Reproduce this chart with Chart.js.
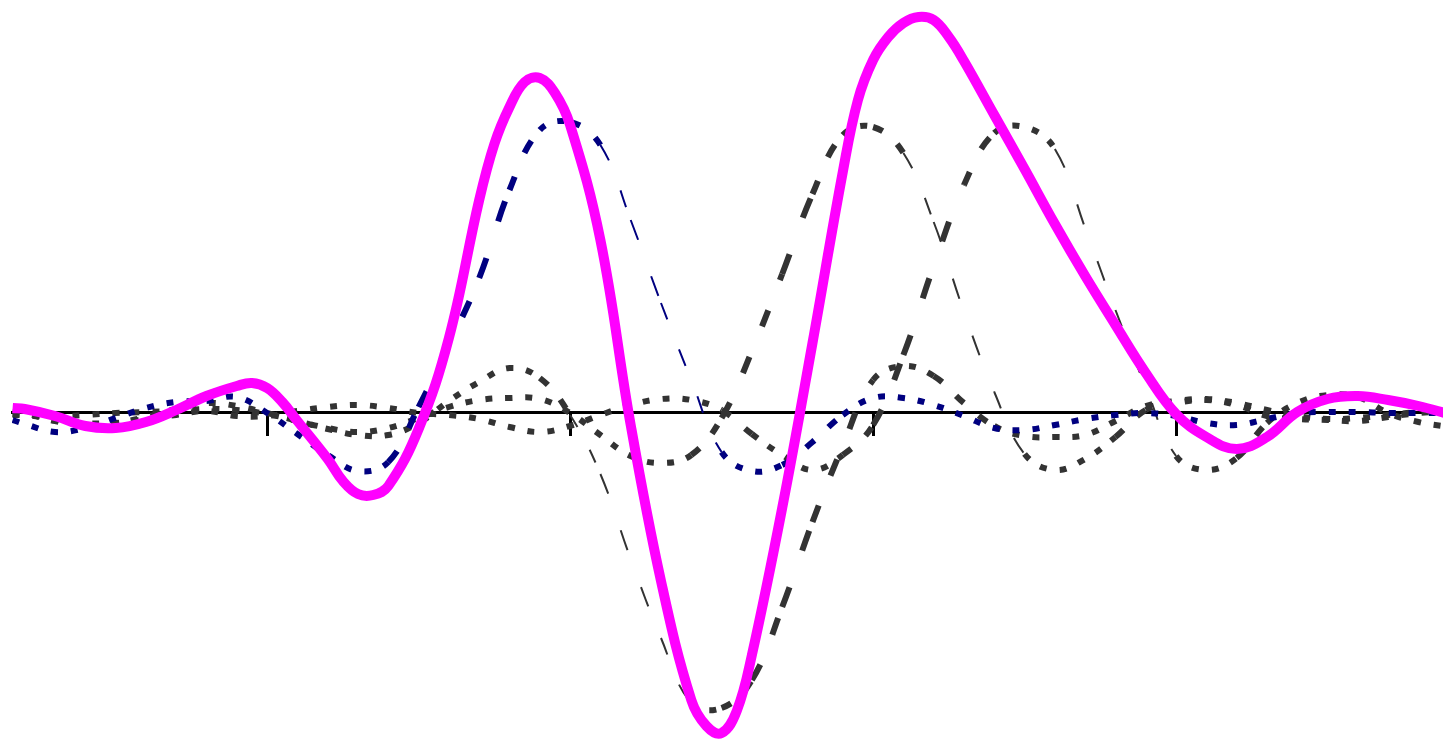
<!DOCTYPE html>
<html>
<head>
<meta charset="utf-8">
<script src="https://cdn.jsdelivr.net/npm/chart.js@4.4.1/dist/chart.umd.min.js"></script>
<style>
  html, body { margin: 0; padding: 0; background: #fff; }
  #wrap { width: 1443px; height: 744px; position: relative; }
</style>
</head>
<body>
<div id="wrap"><canvas id="wavelets"></canvas></div>
<script>
// sample positions of the atoms (time axis, ticks at whole units)
const tValues = [-1.84, -1.8, -1.7, -1.6, -1.5, -1.4, -1.3, -1.2, -1.1, -1.0, -0.9, -0.8, -0.7, -0.6, -0.5, -0.4, -0.3, -0.2, -0.1, 0.0,
  0.1, 0.2, 0.3, 0.4, 0.5, 0.6, 0.7, 0.8, 0.9, 1.0, 1.1, 1.2, 1.3, 1.4, 1.5, 1.6, 1.7, 1.8, 1.9, 2.0,
  2.1, 2.2, 2.3, 2.4, 2.5, 2.6, 2.7, 2.8, 2.9];
const tickValues = [-1, 0, 1, 2];

// summed signal (thick magenta), read more densely around the turns
const sumT = [-1.84, -1.8, -1.7, -1.6, -1.5, -1.4, -1.3, -1.2, -1.1, -1.05, -1.0, -0.95, -0.9, -0.8, -0.75, -0.7, -0.65, -0.6, -0.5, -0.4,
  -0.3, -0.25, -0.2, -0.15, -0.1, -0.05, 0.0, 0.1, 0.2, 0.3, 0.4, 0.45, 0.5, 0.55, 0.6, 0.7, 0.8, 0.9, 0.95, 1.0,
  1.05, 1.1, 1.15, 1.2, 1.25, 1.3, 1.4, 1.5, 1.6, 1.7, 1.8, 1.9, 2.0, 2.1, 2.2, 2.3, 2.4, 2.5, 2.6, 2.7,
  2.8, 2.9];
const sumSignal = [0.05, 0.04, -0.03, -0.13, -0.15, -0.09, 0.03, 0.17, 0.27, 0.30, 0.25, 0.11, -0.08, -0.46, -0.68, -0.81, -0.82, -0.73, -0.16, 0.75,
  2.13, 2.69, 3.06, 3.31, 3.35, 3.20, 2.88, 1.73, -0.12, -1.68, -2.87, -3.13, -3.20, -2.98, -2.42, -0.95, 0.70, 2.41, 3.13, 3.53,
  3.76, 3.90, 3.96, 3.93, 3.76, 3.52, 2.98, 2.44, 1.89, 1.37, 0.88, 0.40, -0.01, -0.24, -0.36, -0.24, 0.01, 0.14, 0.17, 0.13,
  0.07, -0.01];

// first atom (navy dotted)
const atomA = [-0.07, -0.11, -0.19, -0.15, -0.05, 0.05, 0.11, 0.12, 0.16, 0.00, -0.21, -0.42, -0.58, -0.49, 0.06, 0.68, 1.35, 2.23, 2.83, 2.91,
  2.68, 1.93, 1.10, 0.33, -0.39, -0.58, -0.52, -0.29, -0.02, 0.15, 0.15, 0.08, -0.03, -0.15, -0.17, -0.12, -0.06, -0.02, 0.00, -0.03,
  -0.10, -0.12, -0.06, 0.00, 0.01, 0.01, 0.00, 0.00, 0.00];

// other atoms (dark grey dotted)
const atomB = [0.02, 0.00, -0.08, -0.12, -0.10, -0.04, 0.04, 0.10, 0.07, 0.00, -0.08, -0.16, -0.22, -0.22, -0.10, 0.12, 0.31, 0.45, 0.35, -0.02,
  -0.61, -1.46, -2.25, -2.90, -2.95, -2.67, -1.94, -1.09, -0.33, 0.33, 0.47, 0.37, 0.10, -0.13, -0.23, -0.24, -0.22, -0.08, 0.07, 0.12,
  0.14, 0.10, 0.03, -0.03, -0.06, -0.05, -0.02, 0.01, 0.02];
const atomC = [-0.01, -0.02, -0.03, -0.02, 0.00, 0.01, 0.02, 0.04, 0.03, -0.01, -0.08, -0.15, -0.19, -0.15, -0.05, 0.06, 0.13, 0.15, 0.14, 0.00,
  -0.22, -0.43, -0.50, -0.42, -0.05, 0.62, 1.39, 2.19, 2.78, 2.86, 2.60, 1.91, 1.01, 0.21, -0.41, -0.57, -0.46, -0.24, 0.03, 0.10,
  0.13, 0.08, -0.03, -0.06, -0.07, -0.08, -0.04, 0.00, 0.02];
const atomD = [-0.02, -0.02, -0.06, -0.10, -0.10, -0.06, -0.02, 0.02, -0.03, -0.03, 0.02, 0.06, 0.08, 0.05, 0.00, -0.02, -0.06, -0.14, -0.19, -0.13,
  -0.02, 0.08, 0.14, 0.13, 0.03, -0.21, -0.42, -0.57, -0.42, -0.12, 0.58, 1.47, 2.28, 2.80, 2.86, 2.64, 1.85, 1.03, 0.26, -0.43,
  -0.57, -0.45, -0.10, 0.10, 0.18, 0.16, 0.00, -0.09, -0.14];

const toPoints = (xs, vals) => vals.map((v, i) => ({ x: xs[i], y: v }));

// steep falling stretches of the dotted lines come out thin, like in the scan
const pxSlope = ctx => (ctx.p1.y - ctx.p0.y) / Math.max(1, ctx.p1.x - ctx.p0.x);
const stretch = ctx => Math.round(Math.hypot(1, pxSlope(ctx)) * 2) / 2;
const dotted = width => ({
  borderWidth: ctx => pxSlope(ctx) > 1.5 ? 2 : width,
  borderDash: ctx => { const k = stretch(ctx); return [7 * k, 13 * k]; }
});

const dottedSet = (data, color) => ({
  data: toPoints(tValues, data),
  borderColor: color,
  borderWidth: 6,
  borderDash: [7, 13],
  borderCapStyle: 'butt',
  pointRadius: 0,
  tension: 0.4,
  segment: dotted(6)
});

const ctx = document.getElementById('wavelets').getContext('2d');
new Chart(ctx, {
  type: 'line',
  data: {
    datasets: [
      {
        data: toPoints(sumT, sumSignal),
        borderColor: '#ff00ff',
        borderWidth: 10,
        pointRadius: 0,
        tension: 0.4
      },
      dottedSet(atomA, '#000080'),
      dottedSet(atomB, '#333333'),
      dottedSet(atomC, '#333333'),
      dottedSet(atomD, '#333333')
    ]
  },
  options: {
    responsive: true,
    maintainAspectRatio: false,
    animation: false,
    layout: { padding: { left: 12, right: 0, top: 0, bottom: 0 } },
    plugins: { legend: { display: false }, tooltip: { enabled: false } },
    scales: {
      x: {
        type: 'linear',
        min: -1.842,
        max: 2.881,
        position: { y: 0 },
        afterBuildTicks: scale => { scale.ticks = tickValues.map(v => ({ value: v })); },
        ticks: { display: false },
        grid: { drawOnChartArea: false, drawTicks: true, tickLength: 22, tickWidth: 3, tickColor: '#000' },
        border: { display: true, color: '#000', width: 3 }
      },
      y: {
        type: 'linear',
        display: false,
        min: -3.31,
        max: 4.13
      }
    }
  }
});
</script>
</body>
</html>
